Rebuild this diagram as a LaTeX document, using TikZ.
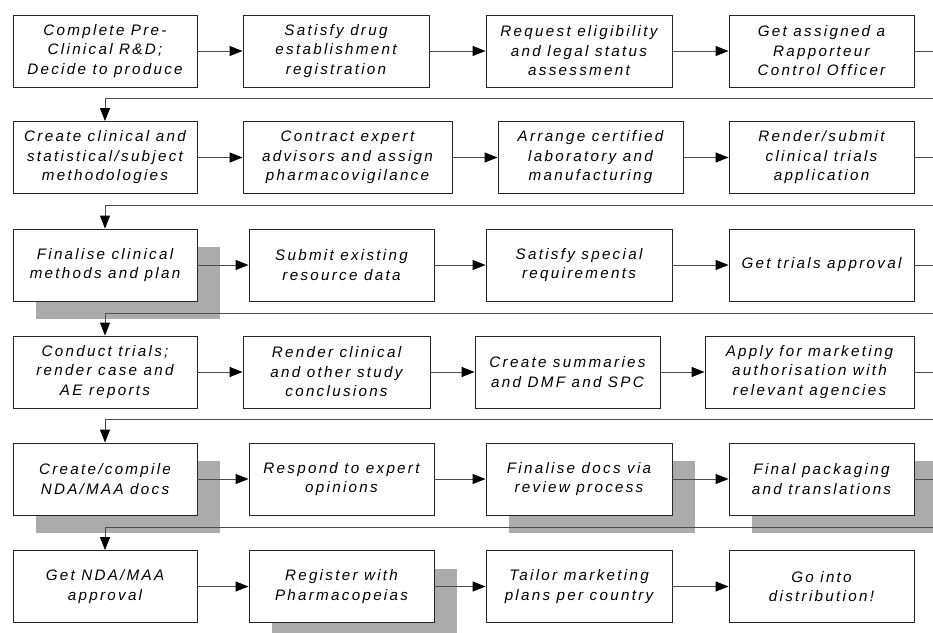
\documentclass[tikz,border=0pt]{standalone}
\usepackage{fontspec}
\setmainfont{Liberation Sans}[LetterSpace=15]
\usetikzlibrary{arrows.meta,calc,shadows}
\tikzset{
  box/.style={draw=black!85, line width=0.9pt, fill=white, minimum height=72pt,
    inner sep=2pt, align=center, font=\fontsize{15.2}{19.5}\selectfont\itshape, text=black},
  shbox/.style={box, drop shadow={shadow xshift=23pt, shadow yshift=-18pt, fill=black!33, opacity=1}},
  conn/.style={draw=black!70, line width=1pt, -{Triangle[length=13pt,width=10pt,black]}},
  plainline/.style={draw=black!70, line width=1pt}
}
\newcommand\bx[7][box]{%
  \node[#1, minimum width={(#4-#3)*1pt}] (#2) at ({(#3+#4)/2},{(#5+#6)/2}) {#7};}
\begin{document}
\begin{tikzpicture}[x=1pt,y=-1pt]
\useasboundingbox (0,0) rectangle (933,632);
\clip (0,0) rectangle (933,632);
% row 1
\bx{r1a}{13}{197}{15}{87}{Complete Pre-\\Clinical R\&D;\\Decide to produce}
\bx{r1b}{243}{429}{15}{87}{Satisfy drug\\establishment\\registration}
\bx{r1c}{486}{672}{15}{87}{Request eligibility\\and legal status\\assessment}
\bx{r1d}{729}{914}{15}{87}{Get assigned a\\Rapporteur\\Control Officer}
% row 2
\bx{r2a}{13}{197}{122}{193}{Create clinical and\\statistical/subject\\methodologies}
\bx{r2b}{243}{452}{122}{193}{Contract expert\\advisors and assign\\pharmacovigilance}
\bx{r2c}{498}{683}{122}{193}{Arrange certified\\laboratory and\\manufacturing}
\bx{r2d}{729}{914}{122}{193}{Render/submit\\clinical trials\\application}
% row 3
\bx[shbox]{r3a}{13}{197}{229}{301}{Finalise clinical\\methods and plan}
\bx{r3b}{249}{434}{229}{301}{Submit existing\\resource data}
\bx{r3c}{486}{672}{229}{301}{Satisfy special\\requirements}
\bx{r3d}{729}{914}{229}{301}{Get trials approval}
% row 4
\bx{r4a}{13}{197}{336}{408}{Conduct trials;\\render case and\\AE reports}
\bx{r4b}{243}{430}{336}{408}{Render clinical\\and other study\\conclusions}
\bx{r4c}{475}{660}{336}{408}{Create summaries\\and DMF and SPC}
\bx{r4d}{705}{914}{336}{408}{Apply for marketing\\authorisation with\\relevant agencies}
% row 5
\bx[shbox]{r5a}{13}{197}{443}{515}{Create/compile\\NDA/MAA docs}
\bx{r5b}{249}{434}{443}{515}{Respond to expert\\opinions}
\bx[shbox]{r5c}{486}{672}{443}{515}{Finalise docs via\\review process}
\bx[shbox]{r5d}{729}{914}{443}{515}{Final packaging\\and translations}
% row 6
\bx{r6a}{13}{197}{551}{622}{Get NDA/MAA\\approval}
\bx[shbox]{r6b}{249}{434}{551}{622}{Register with\\Pharmacopeias}
\bx{r6c}{486}{672}{551}{622}{Tailor marketing\\plans per country}
\bx{r6d}{729}{914}{551}{622}{Go into\\distribution!}
% wrap points beyond the right edge
\coordinate (w1) at (945,98);
\coordinate (w2) at (945,205);
\coordinate (w3) at (945,313);
\coordinate (w4) at (945,419);
\coordinate (w5) at (945,527);
% connectors
\foreach \r in {1,...,6}{
  \draw[conn] (r\r a) -- (r\r b);
  \draw[conn] (r\r b) -- (r\r c);
  \draw[conn] (r\r c) -- (r\r d);
}
\draw[conn] (r1d.east) -| (w1) -| (r2a.north);
\draw[conn] (r2d.east) -| (w2) -| (r3a.north);
\draw[conn] (r3d.east) -| (w3) -| (r4a.north);
\draw[conn] (r4d.east) -| (w4) -| (r5a.north);
\draw[conn] (r5d.east) -| (w5) -| (r6a.north);
\end{tikzpicture}
\end{document}
